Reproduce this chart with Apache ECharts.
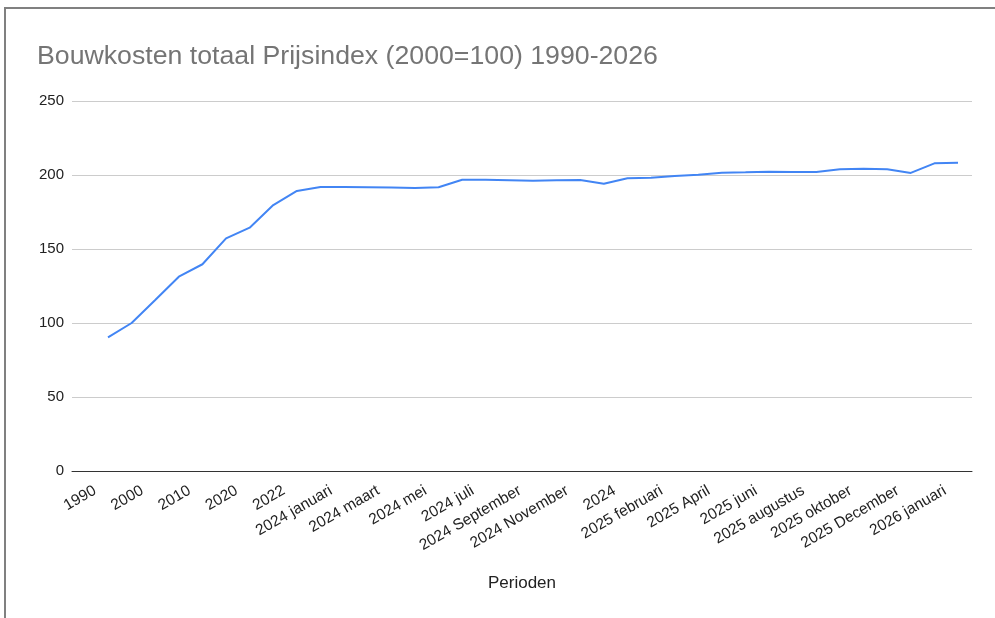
<!DOCTYPE html>
<html>
<head>
<meta charset="utf-8">
<script src="https://cdn.jsdelivr.net/npm/echarts@6/dist/echarts.min.js"></script>
<style>
html,body{margin:0;padding:0;background:#fff;}
#frame{position:absolute;left:4px;top:7px;width:991px;height:611px;border-left:2px solid #808080;border-top:2px solid #808080;box-sizing:border-box;}
#chart{position:absolute;left:0;top:0;width:995px;height:618px;}
</style>
</head>
<body>
<div id="frame"></div>
<div id="chart"></div>
<script>
const titleText = 'Bouwkosten totaal Prijsindex (2000=100) 1990-2026';
const xAxisTitle = 'Perioden';
const periods = [
  '1990','1995','2000','2005','2010','2015','2020','2021','2022','2023',
  '2024 januari','2024 februari','2024 maart','2024 april','2024 mei','2024 juni',
  '2024 juli','2024 augustus','2024 September','2024 oktober','2024 November','2024 December',
  '2024','2025 januari','2025 februari','2025 maart','2025 April','2025 mei',
  '2025 juni','2025 juli','2025 augustus','2025 september','2025 oktober','2025 november',
  '2025 December','2025','2026 januari'
];
const indexValues = [
  90.3, 100.0, 115.5, 131.3, 139.7, 157.2, 164.4, 179.7, 189.2, 191.9,
  191.9, 191.8, 191.5, 191.2, 191.7, 196.8,
  196.8, 196.5, 196.1, 196.4, 196.6, 194.1,
  197.8, 198.2, 199.3, 200.2, 201.6, 201.8,
  202.2, 202.0, 202.0, 203.9, 204.3, 203.9,
  201.4, 207.9, 208.3
];
const yTicks = { min: 0, max: 250, interval: 50 };

const chart = echarts.init(document.getElementById('chart'), null, { renderer: 'canvas' });
const font = '"Liberation Sans", Arial, sans-serif';
chart.setOption({
  animation: false,
  textStyle: { fontFamily: font },
  title: {
    text: titleText,
    left: 32, top: 38,
    textStyle: { fontFamily: font, fontSize: 26.7, fontWeight: 'normal', color: '#757575' }
  },
  grid: [
    { left: 72, right: 23, top: 101, bottom: 147 },
    { left: 108, right: 37, top: 101, bottom: 147 }
  ],
  xAxis: [
    {
      gridIndex: 0, type: 'value', min: 0, max: 1,
      axisLine: { show: true, lineStyle: { color: '#333', width: 1 } },
      axisTick: { show: false }, axisLabel: { show: false }, splitLine: { show: false },
      name: xAxisTitle, nameLocation: 'middle', nameGap: 104,
      nameTextStyle: { fontFamily: font, fontSize: 17, color: '#222' }
    },
    {
      gridIndex: 1, type: 'category', boundaryGap: false, data: periods,
      axisLine: { show: false }, axisTick: { show: false }, splitLine: { show: false },
      axisLabel: {
        interval: 1, rotate: 30, margin: 11, padding: [0, 15, 0, 0],
        fontFamily: font, fontSize: 15.5, color: '#222'
      }
    }
  ],
  yAxis: [
    {
      gridIndex: 0, type: 'value', min: yTicks.min, max: yTicks.max, interval: yTicks.interval,
      axisLine: { show: false }, axisTick: { show: false },
      axisLabel: { margin: 8, fontFamily: font, fontSize: 15, color: '#222' },
      splitLine: { lineStyle: { color: '#cccccc', width: 1 } }
    },
    {
      gridIndex: 1, type: 'value', min: yTicks.min, max: yTicks.max, interval: yTicks.interval,
      show: false
    }
  ],
  series: [{
    type: 'line', xAxisIndex: 1, yAxisIndex: 1,
    data: indexValues, showSymbol: false, symbol: 'none',
    lineStyle: { color: '#4285F4', width: 2 },
    z: 5
  }]
});
</script>
</body>
</html>
